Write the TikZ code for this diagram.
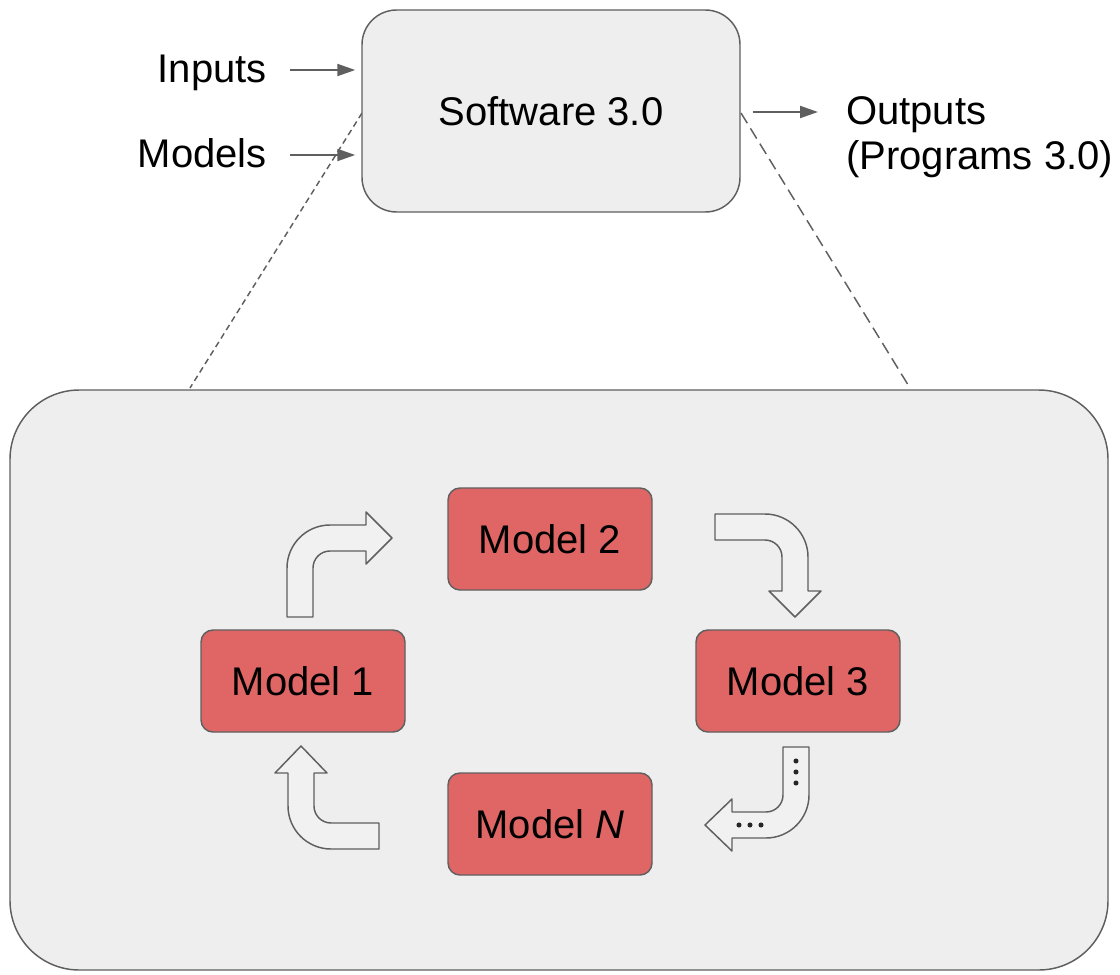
\documentclass[tikz,border=0pt]{standalone}
\usepackage{fontspec}
\setmainfont{Liberation Sans}
\usetikzlibrary{arrows.meta}
\definecolor{panel}{HTML}{EEEEEE}
\definecolor{edge}{HTML}{5F5F5F}
\definecolor{modelred}{HTML}{E06666}
\definecolor{bentfill}{HTML}{F1F1F1}
\begin{document}
\begin{tikzpicture}[x=0.75pt,y=-0.75pt,
  every node/.style={font=\fontsize{30pt}{34pt}\selectfont, text=black},
  panelbox/.style={draw=edge, line width=1.1pt, fill=panel, inner sep=0pt},
  modelbox/.style={draw=edge, line width=1.1pt, fill=modelred, rounded corners=9pt,
    minimum width=153pt, minimum height=76.5pt, inner sep=0pt},
  bentarrow/.style={draw=edge, line width=1.1pt, fill=bentfill, line join=round},
  flow/.style={draw=edge, line width=1.5pt, -{Triangle[length=13.5pt,width=9pt]}},
  zoomline/.style={draw=edge, line width=1.1pt}
]
\useasboundingbox (0,0) rectangle (1120,974);

% zoom guide lines from the summary box down to the detail panel
\coordinate (zl1) at (190,388);
\coordinate (zl2) at (910,388);
\coordinate (zs1) at (362,113);
\coordinate (zs2) at (741,113);
\draw[zoomline, dash pattern=on 4.5pt off 3pt] (zs1) -- (zl1);
\draw[zoomline, dash pattern=on 9pt off 4.5pt] (zs2) -- (zl2);

% summary box
\node[panelbox, rounded corners=26pt, minimum width=283.5pt, minimum height=151.5pt]
  (sw) at (551,111) {Software 3.0};

% inputs and outputs
\node[anchor=base east, inner sep=0pt] (inputs) at (267,83) {Inputs};
\node[anchor=base east, inner sep=0pt] (models) at (267,167) {Models};
\node[anchor=west, inner sep=0pt, align=left] (outputs) at (846,137) {Outputs\\(Programs 3.0)};
\coordinate (in1) at (290,70);
\coordinate (in2) at (290,155);
\coordinate (out1) at (818,112);
\draw[flow, shorten >=4.5pt] (in1) -- (sw.west |- in1);
\draw[flow, shorten >=4.5pt] (in2) -- (sw.west |- in2);
\draw[flow, shorten <=9pt] (sw.east |- out1) -- (out1);

% detail panel
\node[panelbox, rounded corners=52pt, minimum width=823.5pt, minimum height=435pt]
  (core) at (559,680) {};

% models in the loop
\node[modelbox] (m2) at (550,539) {Model 2};
\node[modelbox] (m1) at (303,681) {Model 1};
\node[modelbox] (m3) at (798,681) {Model 3};
\node[modelbox] (mn) at (550,824) {Model \textit{N}};

% bent arrows around the loop
% Model 1 -> Model 2
\path[bentarrow] (287,617) -- (287,568)
  .. controls (287,544.3) and (306.3,525) .. (330,525)
  -- (366,525) -- (366,512) -- (392,538) -- (366,564) -- (366,551)
  -- (330,551) .. controls (320.6,551) and (313,558.6) .. (313,568)
  -- (313,617) -- cycle;
% Model 2 -> Model 3
\path[bentarrow] (715,514) -- (765,514)
  .. controls (788.7,514) and (808,533.3) .. (808,557)
  -- (808,591) -- (821,591) -- (795,617) -- (769,591) -- (782,591)
  -- (782,557) .. controls (782,547.6) and (774.4,540) .. (765,540)
  -- (715,540) -- cycle;
% Model 3 -> Model N
\path[bentarrow] (783,747) -- (809,747) -- (809,795)
  .. controls (809,818.7) and (789.7,838) .. (766,838)
  -- (732,838) -- (732,851) -- (705,825) -- (732,799) -- (732,812)
  -- (766,812) .. controls (775.4,812) and (783,804.4) .. (783,795)
  -- cycle;
\foreach \yy in {761,772,783} \fill[black!85] (796,\yy) circle[radius=1.9pt];
\foreach \xx in {739,750,761} \fill[black!85] (\xx,825) circle[radius=1.9pt];
% Model N -> Model 1
\path[bentarrow] (379,823) -- (379,849) -- (331,849)
  .. controls (307.3,849) and (288,829.7) .. (288,806)
  -- (288,773) -- (275,773) -- (301,746) -- (327,773) -- (314,773)
  -- (314,806) .. controls (314,815.4) and (321.6,823) .. (331,823)
  -- cycle;
\end{tikzpicture}
\end{document}
